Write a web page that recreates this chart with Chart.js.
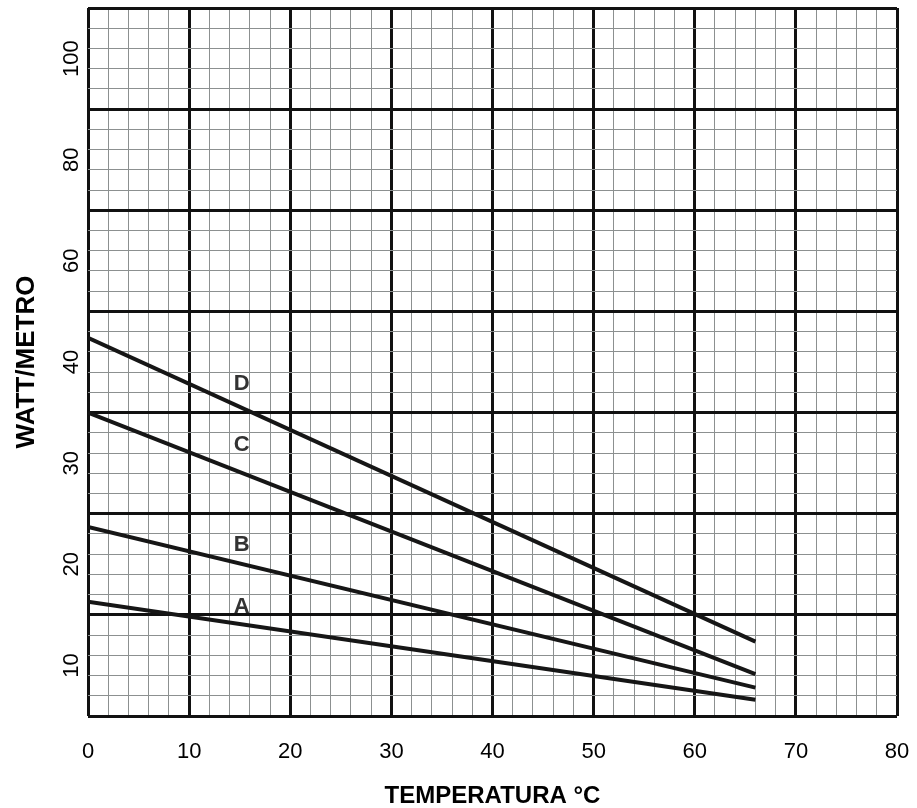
<!DOCTYPE html>
<html><head><meta charset="utf-8">
<script src="https://cdn.jsdelivr.net/npm/chart.js@4/dist/chart.umd.min.js"></script>
<style>html,body{margin:0;padding:0;background:#fff;}#wrap{width:917px;height:808px;}</style>
</head><body><div id="wrap"><canvas id="c" width="917" height="808"></canvas></div>
<script>
// Temperatures (°C) at the ends of each straight line
const temperatures = [0, 66];
// Series values, in band units of the chart's vertical scale (one band per labelled row)
const seriesA = [1.13, 0.16];
const seriesB = [1.87, 0.28];
const seriesC = [3.00, 0.415];
const seriesD = [3.74, 0.735];
const seriesNames = ['A', 'B', 'C', 'D'];
// Where the series letters sit (temperature, band level)
const nameTemps = [15.2, 15.2, 15.2, 15.2];
const nameLevels = [1.08, 1.69, 2.68, 3.28];
// Tick labels
const xTickValues = [0, 10, 20, 30, 40, 50, 60, 70, 80];
const xTickLabels = ['0', '10', '20', '30', '40', '50', '60', '70', '80'];
const yTickLevels = [0.5, 1.5, 2.5, 3.5, 4.5, 5.5, 6.5];
const yTickLabels = ['10', '20', '30', '40', '60', '80', '100'];

const FONT = '"Liberation Sans", Arial, sans-serif';
const MAJOR = '#111111';
const MINOR = '#8c9090';

const seriesLabelPlugin = {
  id: 'seriesLabels',
  afterDatasetsDraw(chart) {
    const {ctx, scales: {x, y}} = chart;
    ctx.save();
    ctx.font = 'bold 22px ' + FONT;
    ctx.fillStyle = '#333333';
    ctx.textAlign = 'center';
    ctx.textBaseline = 'middle';
    seriesNames.forEach((n, i) => {
      ctx.fillText(n, x.getPixelForValue(nameTemps[i]), y.getPixelForValue(nameLevels[i]));
    });
    ctx.restore();
  }
};

const allSeries = [seriesA, seriesB, seriesC, seriesD];
const datasets = allSeries.map((s, k) => ({
  label: seriesNames[k],
  data: temperatures.map((t, i) => ({x: t, y: s[i]})),
  borderColor: '#161616',
  borderWidth: 4,
  borderCapStyle: 'butt',
  pointRadius: 0,
  tension: 0,
  fill: false,
  xAxisID: 'x',
  yAxisID: 'y'
}));

new Chart(document.getElementById('c'), {
  type: 'line',
  data: {datasets},
  plugins: [seriesLabelPlugin],
  options: {
    responsive: false,
    devicePixelRatio: 1,
    animation: false,
    layout: {padding: {top: 8, right: 20, left: 0, bottom: 0}},
    plugins: {legend: {display: false}, tooltip: {enabled: false}},
    scales: {
      x: {
        type: 'linear', position: 'bottom', min: 0, max: 80,
        afterBuildTicks: s => { s.ticks = Array.from({length: 41}, (_, i) => ({value: i * 2})); },
        afterFit: s => { s.height = 92; s.paddingLeft = 0; s.paddingRight = 0; },
        ticks: {
          autoSkip: false, maxRotation: 0, minRotation: 0, padding: 23, color: '#000',
          font: {family: FONT, size: 22},
          callback: v => { const i = xTickValues.indexOf(v); return i >= 0 ? xTickLabels[i] : ''; }
        },
        grid: {
          drawTicks: false,
          color: c => (c.index % 5 === 0 ? MAJOR : MINOR),
          lineWidth: c => (c.index % 5 === 0 ? 3 : 1)
        },
        border: {display: false},
        title: {display: true, text: 'TEMPERATURA °C', color: '#000',
          font: {family: FONT, size: 24, weight: 'bold', lineHeight: 1}, padding: {top: 0, bottom: 0}}
      },
      y: {
        type: 'linear', position: 'left', min: 0, max: 7, weight: 0,
        afterBuildTicks: s => { s.ticks = Array.from({length: 36}, (_, i) => ({value: i / 5})); },
        afterFit: s => { s.width = 0; s.paddingTop = 0; s.paddingBottom = 0; },
        ticks: {display: false},
        grid: {
          drawTicks: false,
          color: c => (c.index % 5 === 0 ? MAJOR : MINOR),
          lineWidth: c => (c.index % 5 === 0 ? 3 : 1)
        },
        border: {display: false}
      },
      yLabels: {
        type: 'linear', position: 'left', min: 0, max: 7, weight: 1,
        afterBuildTicks: s => { s.ticks = yTickLevels.map(v => ({value: v})); },
        afterFit: s => { s.width = 88; s.paddingTop = 0; s.paddingBottom = 0; },
        ticks: {
          autoSkip: false, minRotation: 90, maxRotation: 90, crossAlign: 'center', padding: -10,
          color: '#000', font: {family: FONT, size: 22},
          callback: (v, i) => yTickLabels[i]
        },
        grid: {display: false},
        border: {display: false},
        title: {display: true, text: 'WATT/METRO', color: '#000',
          font: {family: FONT, size: 26, weight: 'bold', lineHeight: 1}, padding: {top: 13.5, bottom: 0}}
      }
    }
  }
});
</script></body></html>
